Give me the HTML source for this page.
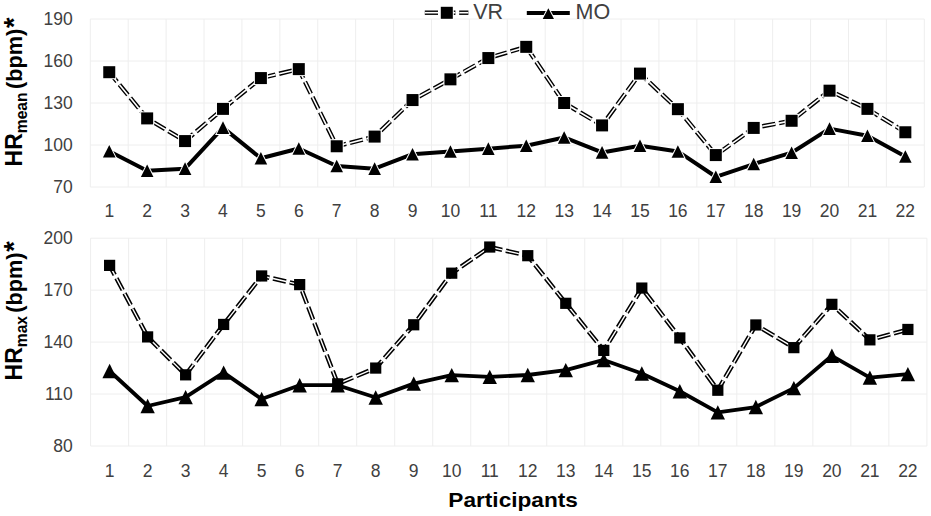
<!DOCTYPE html>
<html><head><meta charset="utf-8"><style>
html,body{margin:0;padding:0;background:#fff;}
svg{display:block;}
.tk{font-family:"Liberation Sans", sans-serif;font-size:17.5px;fill:#404040;}
.lg{font-family:"Liberation Sans", sans-serif;font-size:21.5px;fill:#404040;}
.yt{font-family:"Liberation Sans", sans-serif;font-size:23px;font-weight:bold;fill:#000;}
.yt .sub{font-size:15.6px;}
.yt2{font-family:"Liberation Sans", sans-serif;font-size:21.7px;font-weight:bold;fill:#000;}
.xt{font-family:"Liberation Sans", sans-serif;font-size:21px;font-weight:bold;fill:#000;}
</style></head><body>
<svg width="931" height="516" viewBox="0 0 931 516">
<rect width="931" height="516" fill="#fff"/>
<line x1="90.30" y1="187.00" x2="924.30" y2="187.00" stroke="#eeeeee" stroke-width="1"/>
<text x="72.8" y="193.10" text-anchor="end" class="tk">70</text>
<line x1="90.30" y1="145.00" x2="924.30" y2="145.00" stroke="#eeeeee" stroke-width="1"/>
<text x="72.8" y="151.10" text-anchor="end" class="tk">100</text>
<line x1="90.30" y1="103.00" x2="924.30" y2="103.00" stroke="#eeeeee" stroke-width="1"/>
<text x="72.8" y="109.10" text-anchor="end" class="tk">130</text>
<line x1="90.30" y1="61.00" x2="924.30" y2="61.00" stroke="#eeeeee" stroke-width="1"/>
<text x="72.8" y="67.10" text-anchor="end" class="tk">160</text>
<line x1="90.30" y1="19.00" x2="924.30" y2="19.00" stroke="#eeeeee" stroke-width="1"/>
<text x="72.8" y="25.10" text-anchor="end" class="tk">190</text>
<line x1="90.30" y1="19.0" x2="90.30" y2="187.0" stroke="#eeeeee" stroke-width="1"/>
<line x1="128.21" y1="19.0" x2="128.21" y2="187.0" stroke="#eeeeee" stroke-width="1"/>
<line x1="166.12" y1="19.0" x2="166.12" y2="187.0" stroke="#eeeeee" stroke-width="1"/>
<line x1="204.03" y1="19.0" x2="204.03" y2="187.0" stroke="#eeeeee" stroke-width="1"/>
<line x1="241.94" y1="19.0" x2="241.94" y2="187.0" stroke="#eeeeee" stroke-width="1"/>
<line x1="279.85" y1="19.0" x2="279.85" y2="187.0" stroke="#eeeeee" stroke-width="1"/>
<line x1="317.75" y1="19.0" x2="317.75" y2="187.0" stroke="#eeeeee" stroke-width="1"/>
<line x1="355.66" y1="19.0" x2="355.66" y2="187.0" stroke="#eeeeee" stroke-width="1"/>
<line x1="393.57" y1="19.0" x2="393.57" y2="187.0" stroke="#eeeeee" stroke-width="1"/>
<line x1="431.48" y1="19.0" x2="431.48" y2="187.0" stroke="#eeeeee" stroke-width="1"/>
<line x1="469.39" y1="19.0" x2="469.39" y2="187.0" stroke="#eeeeee" stroke-width="1"/>
<line x1="507.30" y1="19.0" x2="507.30" y2="187.0" stroke="#eeeeee" stroke-width="1"/>
<line x1="545.21" y1="19.0" x2="545.21" y2="187.0" stroke="#eeeeee" stroke-width="1"/>
<line x1="583.12" y1="19.0" x2="583.12" y2="187.0" stroke="#eeeeee" stroke-width="1"/>
<line x1="621.03" y1="19.0" x2="621.03" y2="187.0" stroke="#eeeeee" stroke-width="1"/>
<line x1="658.94" y1="19.0" x2="658.94" y2="187.0" stroke="#eeeeee" stroke-width="1"/>
<line x1="696.85" y1="19.0" x2="696.85" y2="187.0" stroke="#eeeeee" stroke-width="1"/>
<line x1="734.75" y1="19.0" x2="734.75" y2="187.0" stroke="#eeeeee" stroke-width="1"/>
<line x1="772.66" y1="19.0" x2="772.66" y2="187.0" stroke="#eeeeee" stroke-width="1"/>
<line x1="810.57" y1="19.0" x2="810.57" y2="187.0" stroke="#eeeeee" stroke-width="1"/>
<line x1="848.48" y1="19.0" x2="848.48" y2="187.0" stroke="#eeeeee" stroke-width="1"/>
<line x1="886.39" y1="19.0" x2="886.39" y2="187.0" stroke="#eeeeee" stroke-width="1"/>
<line x1="924.30" y1="19.0" x2="924.30" y2="187.0" stroke="#eeeeee" stroke-width="1"/>
<text x="109.25" y="217.10" text-anchor="middle" class="tk">1</text>
<text x="147.16" y="217.10" text-anchor="middle" class="tk">2</text>
<text x="185.07" y="217.10" text-anchor="middle" class="tk">3</text>
<text x="222.98" y="217.10" text-anchor="middle" class="tk">4</text>
<text x="260.89" y="217.10" text-anchor="middle" class="tk">5</text>
<text x="298.80" y="217.10" text-anchor="middle" class="tk">6</text>
<text x="336.71" y="217.10" text-anchor="middle" class="tk">7</text>
<text x="374.62" y="217.10" text-anchor="middle" class="tk">8</text>
<text x="412.53" y="217.10" text-anchor="middle" class="tk">9</text>
<text x="450.44" y="217.10" text-anchor="middle" class="tk">10</text>
<text x="488.35" y="217.10" text-anchor="middle" class="tk">11</text>
<text x="526.25" y="217.10" text-anchor="middle" class="tk">12</text>
<text x="564.16" y="217.10" text-anchor="middle" class="tk">13</text>
<text x="602.07" y="217.10" text-anchor="middle" class="tk">14</text>
<text x="639.98" y="217.10" text-anchor="middle" class="tk">15</text>
<text x="677.89" y="217.10" text-anchor="middle" class="tk">16</text>
<text x="715.80" y="217.10" text-anchor="middle" class="tk">17</text>
<text x="753.71" y="217.10" text-anchor="middle" class="tk">18</text>
<text x="791.62" y="217.10" text-anchor="middle" class="tk">19</text>
<text x="829.53" y="217.10" text-anchor="middle" class="tk">20</text>
<text x="867.44" y="217.10" text-anchor="middle" class="tk">21</text>
<text x="905.35" y="217.10" text-anchor="middle" class="tk">22</text>
<polyline points="109.25,72.20 147.16,118.40 185.07,141.08 222.98,108.88 260.89,78.08 298.80,69.12 336.71,146.26 374.62,136.60 412.53,100.06 450.44,79.34 488.35,58.06 526.25,46.86 564.16,103.00 602.07,125.40 639.98,73.60 677.89,109.16 715.80,155.08 753.71,127.92 791.62,120.78 829.53,90.68 867.44,108.88 905.35,132.26" fill="none" stroke="#000" stroke-width="4.4" stroke-dasharray="13.3 3.8" stroke-dashoffset="1.0" stroke-linejoin="miter"/>
<polyline points="109.25,72.20 147.16,118.40 185.07,141.08 222.98,108.88 260.89,78.08 298.80,69.12 336.71,146.26 374.62,136.60 412.53,100.06 450.44,79.34 488.35,58.06 526.25,46.86 564.16,103.00 602.07,125.40 639.98,73.60 677.89,109.16 715.80,155.08 753.71,127.92 791.62,120.78 829.53,90.68 867.44,108.88 905.35,132.26" fill="none" stroke="#fff" stroke-width="1.6" stroke-dasharray="13.3 3.8" stroke-dashoffset="1.0" stroke-linejoin="miter"/>
<rect x="102.25" y="65.20" width="14.0" height="14.0" fill="#fff"/>
<rect x="103.25" y="66.20" width="12.0" height="12.0" fill="#000"/>
<rect x="140.16" y="111.40" width="14.0" height="14.0" fill="#fff"/>
<rect x="141.16" y="112.40" width="12.0" height="12.0" fill="#000"/>
<rect x="178.07" y="134.08" width="14.0" height="14.0" fill="#fff"/>
<rect x="179.07" y="135.08" width="12.0" height="12.0" fill="#000"/>
<rect x="215.98" y="101.88" width="14.0" height="14.0" fill="#fff"/>
<rect x="216.98" y="102.88" width="12.0" height="12.0" fill="#000"/>
<rect x="253.89" y="71.08" width="14.0" height="14.0" fill="#fff"/>
<rect x="254.89" y="72.08" width="12.0" height="12.0" fill="#000"/>
<rect x="291.80" y="62.12" width="14.0" height="14.0" fill="#fff"/>
<rect x="292.80" y="63.12" width="12.0" height="12.0" fill="#000"/>
<rect x="329.71" y="139.26" width="14.0" height="14.0" fill="#fff"/>
<rect x="330.71" y="140.26" width="12.0" height="12.0" fill="#000"/>
<rect x="367.62" y="129.60" width="14.0" height="14.0" fill="#fff"/>
<rect x="368.62" y="130.60" width="12.0" height="12.0" fill="#000"/>
<rect x="405.53" y="93.06" width="14.0" height="14.0" fill="#fff"/>
<rect x="406.53" y="94.06" width="12.0" height="12.0" fill="#000"/>
<rect x="443.44" y="72.34" width="14.0" height="14.0" fill="#fff"/>
<rect x="444.44" y="73.34" width="12.0" height="12.0" fill="#000"/>
<rect x="481.35" y="51.06" width="14.0" height="14.0" fill="#fff"/>
<rect x="482.35" y="52.06" width="12.0" height="12.0" fill="#000"/>
<rect x="519.25" y="39.86" width="14.0" height="14.0" fill="#fff"/>
<rect x="520.25" y="40.86" width="12.0" height="12.0" fill="#000"/>
<rect x="557.16" y="96.00" width="14.0" height="14.0" fill="#fff"/>
<rect x="558.16" y="97.00" width="12.0" height="12.0" fill="#000"/>
<rect x="595.07" y="118.40" width="14.0" height="14.0" fill="#fff"/>
<rect x="596.07" y="119.40" width="12.0" height="12.0" fill="#000"/>
<rect x="632.98" y="66.60" width="14.0" height="14.0" fill="#fff"/>
<rect x="633.98" y="67.60" width="12.0" height="12.0" fill="#000"/>
<rect x="670.89" y="102.16" width="14.0" height="14.0" fill="#fff"/>
<rect x="671.89" y="103.16" width="12.0" height="12.0" fill="#000"/>
<rect x="708.80" y="148.08" width="14.0" height="14.0" fill="#fff"/>
<rect x="709.80" y="149.08" width="12.0" height="12.0" fill="#000"/>
<rect x="746.71" y="120.92" width="14.0" height="14.0" fill="#fff"/>
<rect x="747.71" y="121.92" width="12.0" height="12.0" fill="#000"/>
<rect x="784.62" y="113.78" width="14.0" height="14.0" fill="#fff"/>
<rect x="785.62" y="114.78" width="12.0" height="12.0" fill="#000"/>
<rect x="822.53" y="83.68" width="14.0" height="14.0" fill="#fff"/>
<rect x="823.53" y="84.68" width="12.0" height="12.0" fill="#000"/>
<rect x="860.44" y="101.88" width="14.0" height="14.0" fill="#fff"/>
<rect x="861.44" y="102.88" width="12.0" height="12.0" fill="#000"/>
<rect x="898.35" y="125.26" width="14.0" height="14.0" fill="#fff"/>
<rect x="899.35" y="126.26" width="12.0" height="12.0" fill="#000"/>
<polyline points="109.25,151.30 147.16,170.76 185.07,168.66 222.98,127.64 260.89,158.30 298.80,148.50 336.71,166.00 374.62,168.66 412.53,154.24 450.44,151.44 488.35,148.64 526.25,145.70 564.16,137.44 602.07,152.42 639.98,145.70 677.89,151.44 715.80,176.78 753.71,164.04 791.62,152.70 829.53,128.62 867.44,135.76 905.35,156.48" fill="none" stroke="#000" stroke-width="4.0" stroke-linejoin="round"/>
<path d="M109.25 145.00 L115.55 157.60 L102.95 157.60 Z" fill="#000" stroke="#fff" stroke-width="2.0" stroke-linejoin="miter"/>
<path d="M109.25 145.00 L115.55 157.60 L102.95 157.60 Z" fill="#000"/>
<path d="M147.16 164.46 L153.46 177.06 L140.86 177.06 Z" fill="#000" stroke="#fff" stroke-width="2.0" stroke-linejoin="miter"/>
<path d="M147.16 164.46 L153.46 177.06 L140.86 177.06 Z" fill="#000"/>
<path d="M185.07 162.36 L191.37 174.96 L178.77 174.96 Z" fill="#000" stroke="#fff" stroke-width="2.0" stroke-linejoin="miter"/>
<path d="M185.07 162.36 L191.37 174.96 L178.77 174.96 Z" fill="#000"/>
<path d="M222.98 121.34 L229.28 133.94 L216.68 133.94 Z" fill="#000" stroke="#fff" stroke-width="2.0" stroke-linejoin="miter"/>
<path d="M222.98 121.34 L229.28 133.94 L216.68 133.94 Z" fill="#000"/>
<path d="M260.89 152.00 L267.19 164.60 L254.59 164.60 Z" fill="#000" stroke="#fff" stroke-width="2.0" stroke-linejoin="miter"/>
<path d="M260.89 152.00 L267.19 164.60 L254.59 164.60 Z" fill="#000"/>
<path d="M298.80 142.20 L305.10 154.80 L292.50 154.80 Z" fill="#000" stroke="#fff" stroke-width="2.0" stroke-linejoin="miter"/>
<path d="M298.80 142.20 L305.10 154.80 L292.50 154.80 Z" fill="#000"/>
<path d="M336.71 159.70 L343.01 172.30 L330.41 172.30 Z" fill="#000" stroke="#fff" stroke-width="2.0" stroke-linejoin="miter"/>
<path d="M336.71 159.70 L343.01 172.30 L330.41 172.30 Z" fill="#000"/>
<path d="M374.62 162.36 L380.92 174.96 L368.32 174.96 Z" fill="#000" stroke="#fff" stroke-width="2.0" stroke-linejoin="miter"/>
<path d="M374.62 162.36 L380.92 174.96 L368.32 174.96 Z" fill="#000"/>
<path d="M412.53 147.94 L418.83 160.54 L406.23 160.54 Z" fill="#000" stroke="#fff" stroke-width="2.0" stroke-linejoin="miter"/>
<path d="M412.53 147.94 L418.83 160.54 L406.23 160.54 Z" fill="#000"/>
<path d="M450.44 145.14 L456.74 157.74 L444.14 157.74 Z" fill="#000" stroke="#fff" stroke-width="2.0" stroke-linejoin="miter"/>
<path d="M450.44 145.14 L456.74 157.74 L444.14 157.74 Z" fill="#000"/>
<path d="M488.35 142.34 L494.65 154.94 L482.05 154.94 Z" fill="#000" stroke="#fff" stroke-width="2.0" stroke-linejoin="miter"/>
<path d="M488.35 142.34 L494.65 154.94 L482.05 154.94 Z" fill="#000"/>
<path d="M526.25 139.40 L532.55 152.00 L519.95 152.00 Z" fill="#000" stroke="#fff" stroke-width="2.0" stroke-linejoin="miter"/>
<path d="M526.25 139.40 L532.55 152.00 L519.95 152.00 Z" fill="#000"/>
<path d="M564.16 131.14 L570.46 143.74 L557.86 143.74 Z" fill="#000" stroke="#fff" stroke-width="2.0" stroke-linejoin="miter"/>
<path d="M564.16 131.14 L570.46 143.74 L557.86 143.74 Z" fill="#000"/>
<path d="M602.07 146.12 L608.37 158.72 L595.77 158.72 Z" fill="#000" stroke="#fff" stroke-width="2.0" stroke-linejoin="miter"/>
<path d="M602.07 146.12 L608.37 158.72 L595.77 158.72 Z" fill="#000"/>
<path d="M639.98 139.40 L646.28 152.00 L633.68 152.00 Z" fill="#000" stroke="#fff" stroke-width="2.0" stroke-linejoin="miter"/>
<path d="M639.98 139.40 L646.28 152.00 L633.68 152.00 Z" fill="#000"/>
<path d="M677.89 145.14 L684.19 157.74 L671.59 157.74 Z" fill="#000" stroke="#fff" stroke-width="2.0" stroke-linejoin="miter"/>
<path d="M677.89 145.14 L684.19 157.74 L671.59 157.74 Z" fill="#000"/>
<path d="M715.80 170.48 L722.10 183.08 L709.50 183.08 Z" fill="#000" stroke="#fff" stroke-width="2.0" stroke-linejoin="miter"/>
<path d="M715.80 170.48 L722.10 183.08 L709.50 183.08 Z" fill="#000"/>
<path d="M753.71 157.74 L760.01 170.34 L747.41 170.34 Z" fill="#000" stroke="#fff" stroke-width="2.0" stroke-linejoin="miter"/>
<path d="M753.71 157.74 L760.01 170.34 L747.41 170.34 Z" fill="#000"/>
<path d="M791.62 146.40 L797.92 159.00 L785.32 159.00 Z" fill="#000" stroke="#fff" stroke-width="2.0" stroke-linejoin="miter"/>
<path d="M791.62 146.40 L797.92 159.00 L785.32 159.00 Z" fill="#000"/>
<path d="M829.53 122.32 L835.83 134.92 L823.23 134.92 Z" fill="#000" stroke="#fff" stroke-width="2.0" stroke-linejoin="miter"/>
<path d="M829.53 122.32 L835.83 134.92 L823.23 134.92 Z" fill="#000"/>
<path d="M867.44 129.46 L873.74 142.06 L861.14 142.06 Z" fill="#000" stroke="#fff" stroke-width="2.0" stroke-linejoin="miter"/>
<path d="M867.44 129.46 L873.74 142.06 L861.14 142.06 Z" fill="#000"/>
<path d="M905.35 150.18 L911.65 162.78 L899.05 162.78 Z" fill="#000" stroke="#fff" stroke-width="2.0" stroke-linejoin="miter"/>
<path d="M905.35 150.18 L911.65 162.78 L899.05 162.78 Z" fill="#000"/>
<line x1="90.60" y1="446.00" x2="926.90" y2="446.00" stroke="#eeeeee" stroke-width="1"/>
<text x="72.8" y="452.10" text-anchor="end" class="tk">80</text>
<line x1="90.60" y1="394.05" x2="926.90" y2="394.05" stroke="#eeeeee" stroke-width="1"/>
<text x="72.8" y="400.15" text-anchor="end" class="tk">110</text>
<line x1="90.60" y1="342.10" x2="926.90" y2="342.10" stroke="#eeeeee" stroke-width="1"/>
<text x="72.8" y="348.20" text-anchor="end" class="tk">140</text>
<line x1="90.60" y1="290.15" x2="926.90" y2="290.15" stroke="#eeeeee" stroke-width="1"/>
<text x="72.8" y="296.25" text-anchor="end" class="tk">170</text>
<line x1="90.60" y1="238.20" x2="926.90" y2="238.20" stroke="#eeeeee" stroke-width="1"/>
<text x="72.8" y="244.30" text-anchor="end" class="tk">200</text>
<line x1="90.60" y1="238.2" x2="90.60" y2="446.0" stroke="#eeeeee" stroke-width="1"/>
<line x1="128.61" y1="238.2" x2="128.61" y2="446.0" stroke="#eeeeee" stroke-width="1"/>
<line x1="166.63" y1="238.2" x2="166.63" y2="446.0" stroke="#eeeeee" stroke-width="1"/>
<line x1="204.64" y1="238.2" x2="204.64" y2="446.0" stroke="#eeeeee" stroke-width="1"/>
<line x1="242.65" y1="238.2" x2="242.65" y2="446.0" stroke="#eeeeee" stroke-width="1"/>
<line x1="280.67" y1="238.2" x2="280.67" y2="446.0" stroke="#eeeeee" stroke-width="1"/>
<line x1="318.68" y1="238.2" x2="318.68" y2="446.0" stroke="#eeeeee" stroke-width="1"/>
<line x1="356.70" y1="238.2" x2="356.70" y2="446.0" stroke="#eeeeee" stroke-width="1"/>
<line x1="394.71" y1="238.2" x2="394.71" y2="446.0" stroke="#eeeeee" stroke-width="1"/>
<line x1="432.72" y1="238.2" x2="432.72" y2="446.0" stroke="#eeeeee" stroke-width="1"/>
<line x1="470.74" y1="238.2" x2="470.74" y2="446.0" stroke="#eeeeee" stroke-width="1"/>
<line x1="508.75" y1="238.2" x2="508.75" y2="446.0" stroke="#eeeeee" stroke-width="1"/>
<line x1="546.76" y1="238.2" x2="546.76" y2="446.0" stroke="#eeeeee" stroke-width="1"/>
<line x1="584.78" y1="238.2" x2="584.78" y2="446.0" stroke="#eeeeee" stroke-width="1"/>
<line x1="622.79" y1="238.2" x2="622.79" y2="446.0" stroke="#eeeeee" stroke-width="1"/>
<line x1="660.80" y1="238.2" x2="660.80" y2="446.0" stroke="#eeeeee" stroke-width="1"/>
<line x1="698.82" y1="238.2" x2="698.82" y2="446.0" stroke="#eeeeee" stroke-width="1"/>
<line x1="736.83" y1="238.2" x2="736.83" y2="446.0" stroke="#eeeeee" stroke-width="1"/>
<line x1="774.85" y1="238.2" x2="774.85" y2="446.0" stroke="#eeeeee" stroke-width="1"/>
<line x1="812.86" y1="238.2" x2="812.86" y2="446.0" stroke="#eeeeee" stroke-width="1"/>
<line x1="850.87" y1="238.2" x2="850.87" y2="446.0" stroke="#eeeeee" stroke-width="1"/>
<line x1="888.89" y1="238.2" x2="888.89" y2="446.0" stroke="#eeeeee" stroke-width="1"/>
<line x1="926.90" y1="238.2" x2="926.90" y2="446.0" stroke="#eeeeee" stroke-width="1"/>
<text x="109.61" y="476.80" text-anchor="middle" class="tk">1</text>
<text x="147.62" y="476.80" text-anchor="middle" class="tk">2</text>
<text x="185.63" y="476.80" text-anchor="middle" class="tk">3</text>
<text x="223.65" y="476.80" text-anchor="middle" class="tk">4</text>
<text x="261.66" y="476.80" text-anchor="middle" class="tk">5</text>
<text x="299.67" y="476.80" text-anchor="middle" class="tk">6</text>
<text x="337.69" y="476.80" text-anchor="middle" class="tk">7</text>
<text x="375.70" y="476.80" text-anchor="middle" class="tk">8</text>
<text x="413.72" y="476.80" text-anchor="middle" class="tk">9</text>
<text x="451.73" y="476.80" text-anchor="middle" class="tk">10</text>
<text x="489.74" y="476.80" text-anchor="middle" class="tk">11</text>
<text x="527.76" y="476.80" text-anchor="middle" class="tk">12</text>
<text x="565.77" y="476.80" text-anchor="middle" class="tk">13</text>
<text x="603.78" y="476.80" text-anchor="middle" class="tk">14</text>
<text x="641.80" y="476.80" text-anchor="middle" class="tk">15</text>
<text x="679.81" y="476.80" text-anchor="middle" class="tk">16</text>
<text x="717.82" y="476.80" text-anchor="middle" class="tk">17</text>
<text x="755.84" y="476.80" text-anchor="middle" class="tk">18</text>
<text x="793.85" y="476.80" text-anchor="middle" class="tk">19</text>
<text x="831.87" y="476.80" text-anchor="middle" class="tk">20</text>
<text x="869.88" y="476.80" text-anchor="middle" class="tk">21</text>
<text x="907.89" y="476.80" text-anchor="middle" class="tk">22</text>
<polyline points="109.61,265.39 147.62,336.90 185.63,374.83 223.65,324.44 261.66,275.95 299.67,284.61 337.69,383.83 375.70,368.07 413.72,324.78 451.73,273.18 489.74,247.03 527.76,255.69 565.77,303.31 603.78,350.41 641.80,288.07 679.81,337.94 717.82,390.24 755.84,324.96 793.85,347.64 831.87,304.35 869.88,339.85 907.89,329.46" fill="none" stroke="#000" stroke-width="4.5" stroke-dasharray="13.3 3.8" stroke-dashoffset="2.5" stroke-linejoin="miter"/>
<polyline points="109.61,265.39 147.62,336.90 185.63,374.83 223.65,324.44 261.66,275.95 299.67,284.61 337.69,383.83 375.70,368.07 413.72,324.78 451.73,273.18 489.74,247.03 527.76,255.69 565.77,303.31 603.78,350.41 641.80,288.07 679.81,337.94 717.82,390.24 755.84,324.96 793.85,347.64 831.87,304.35 869.88,339.85 907.89,329.46" fill="none" stroke="#fff" stroke-width="1.4" stroke-dasharray="13.3 3.8" stroke-dashoffset="2.5" stroke-linejoin="miter"/>
<rect x="104.01" y="259.79" width="11.2" height="11.2" fill="#000"/>
<rect x="142.02" y="331.30" width="11.2" height="11.2" fill="#000"/>
<rect x="180.03" y="369.23" width="11.2" height="11.2" fill="#000"/>
<rect x="218.05" y="318.84" width="11.2" height="11.2" fill="#000"/>
<rect x="256.06" y="270.35" width="11.2" height="11.2" fill="#000"/>
<rect x="294.07" y="279.01" width="11.2" height="11.2" fill="#000"/>
<rect x="332.09" y="378.23" width="11.2" height="11.2" fill="#000"/>
<rect x="370.10" y="362.47" width="11.2" height="11.2" fill="#000"/>
<rect x="408.12" y="319.18" width="11.2" height="11.2" fill="#000"/>
<rect x="446.13" y="267.58" width="11.2" height="11.2" fill="#000"/>
<rect x="484.14" y="241.43" width="11.2" height="11.2" fill="#000"/>
<rect x="522.16" y="250.09" width="11.2" height="11.2" fill="#000"/>
<rect x="560.17" y="297.71" width="11.2" height="11.2" fill="#000"/>
<rect x="598.18" y="344.81" width="11.2" height="11.2" fill="#000"/>
<rect x="636.20" y="282.47" width="11.2" height="11.2" fill="#000"/>
<rect x="674.21" y="332.34" width="11.2" height="11.2" fill="#000"/>
<rect x="712.22" y="384.64" width="11.2" height="11.2" fill="#000"/>
<rect x="750.24" y="319.36" width="11.2" height="11.2" fill="#000"/>
<rect x="788.25" y="342.04" width="11.2" height="11.2" fill="#000"/>
<rect x="826.27" y="298.75" width="11.2" height="11.2" fill="#000"/>
<rect x="864.28" y="334.25" width="11.2" height="11.2" fill="#000"/>
<rect x="902.29" y="323.86" width="11.2" height="11.2" fill="#000"/>
<polyline points="109.61,371.02 147.62,406.00 185.63,397.17 223.65,372.58 261.66,399.07 299.67,385.22 337.69,385.22 375.70,397.51 413.72,383.66 451.73,375.17 489.74,376.91 527.76,375.00 565.77,370.15 603.78,359.94 641.80,373.44 679.81,391.28 717.82,412.41 755.84,407.04 793.85,388.16 831.87,355.78 869.88,377.60 907.89,374.14" fill="none" stroke="#000" stroke-width="3.8" stroke-linejoin="round"/>
<path d="M109.61 363.82 L116.81 378.22 L102.41 378.22 Z" fill="#000"/>
<path d="M147.62 398.80 L154.82 413.20 L140.42 413.20 Z" fill="#000"/>
<path d="M185.63 389.97 L192.83 404.37 L178.43 404.37 Z" fill="#000"/>
<path d="M223.65 365.38 L230.85 379.78 L216.45 379.78 Z" fill="#000"/>
<path d="M261.66 391.87 L268.86 406.27 L254.46 406.27 Z" fill="#000"/>
<path d="M299.67 378.02 L306.87 392.42 L292.47 392.42 Z" fill="#000"/>
<path d="M337.69 378.02 L344.89 392.42 L330.49 392.42 Z" fill="#000"/>
<path d="M375.70 390.31 L382.90 404.71 L368.50 404.71 Z" fill="#000"/>
<path d="M413.72 376.46 L420.92 390.86 L406.52 390.86 Z" fill="#000"/>
<path d="M451.73 367.97 L458.93 382.37 L444.53 382.37 Z" fill="#000"/>
<path d="M489.74 369.71 L496.94 384.11 L482.54 384.11 Z" fill="#000"/>
<path d="M527.76 367.80 L534.96 382.20 L520.56 382.20 Z" fill="#000"/>
<path d="M565.77 362.95 L572.97 377.35 L558.57 377.35 Z" fill="#000"/>
<path d="M603.78 352.74 L610.98 367.14 L596.58 367.14 Z" fill="#000"/>
<path d="M641.80 366.24 L649.00 380.64 L634.60 380.64 Z" fill="#000"/>
<path d="M679.81 384.08 L687.01 398.48 L672.61 398.48 Z" fill="#000"/>
<path d="M717.82 405.21 L725.02 419.61 L710.62 419.61 Z" fill="#000"/>
<path d="M755.84 399.84 L763.04 414.24 L748.64 414.24 Z" fill="#000"/>
<path d="M793.85 380.96 L801.05 395.36 L786.65 395.36 Z" fill="#000"/>
<path d="M831.87 348.58 L839.07 362.98 L824.67 362.98 Z" fill="#000"/>
<path d="M869.88 370.40 L877.08 384.80 L862.68 384.80 Z" fill="#000"/>
<path d="M907.89 366.94 L915.09 381.34 L900.69 381.34 Z" fill="#000"/>
<text transform="translate(21.9,166.4) rotate(-90)" class="yt">HR<tspan class="sub" dy="5">mean</tspan></text><text transform="translate(21.9,89.0) rotate(-90)" class="yt2">(bpm)<tspan dx="0.8" dy="1.4" style="font-size:27px">*</tspan></text>
<text transform="translate(21.9,380.4) rotate(-90)" class="yt">HR<tspan class="sub" dy="5">max</tspan></text><text transform="translate(21.9,312.8) rotate(-90)" class="yt2">(bpm)<tspan dx="0.8" dy="1.4" style="font-size:27px">*</tspan></text>
<text x="448.3" y="506.8" class="xt" textLength="129.6" lengthAdjust="spacingAndGlyphs">Participants</text>
<line x1="424.8" y1="12.7" x2="438.0" y2="12.7" stroke="#000" stroke-width="4.4"/><line x1="424.8" y1="12.7" x2="438.0" y2="12.7" stroke="#fff" stroke-width="1.6"/>
<line x1="441.0" y1="12.7" x2="455.4" y2="12.7" stroke="#000" stroke-width="4.4"/><line x1="441.0" y1="12.7" x2="455.4" y2="12.7" stroke="#fff" stroke-width="1.6"/>
<line x1="459.2" y1="12.7" x2="468.4" y2="12.7" stroke="#000" stroke-width="4.4"/><line x1="459.2" y1="12.7" x2="468.4" y2="12.7" stroke="#fff" stroke-width="1.6"/>
<rect x="439.8" y="5.8" width="14" height="14" fill="#fff"/>
<rect x="440.8" y="6.8" width="12" height="12" fill="#000"/>
<text x="473.2" y="19.3" class="lg">VR</text>
<line x1="526.8" y1="13" x2="569.8" y2="13" stroke="#000" stroke-width="3.8"/>
<path d="M548.35 8.2 L554 18.9 L542.7 18.9 Z" fill="#000" stroke="#fff" stroke-width="2"/>
<path d="M548.35 8.2 L554 18.9 L542.7 18.9 Z" fill="#000"/>
<text x="575.5" y="19.3" class="lg">MO</text>
</svg>
</body></html>
